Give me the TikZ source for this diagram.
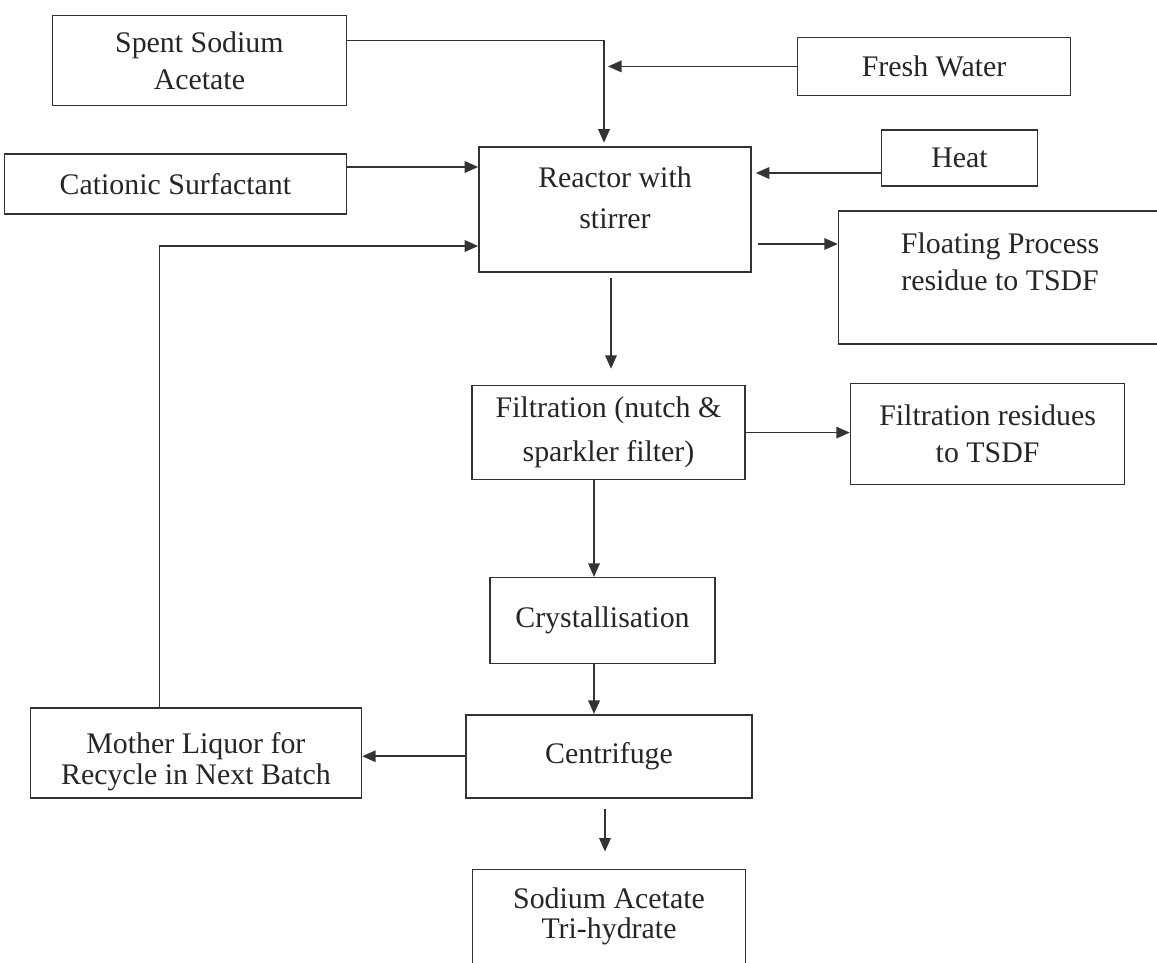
\documentclass[tikz,border=0pt]{standalone}
\usepackage{fontspec}
\setmainfont{Liberation Serif}
\usepackage{tikz}
\usetikzlibrary{arrows.meta,positioning}

\begin{document}
\begin{tikzpicture}[
  box/.style={rectangle, draw=black!80, line width=0.9pt, align=center, inner sep=2pt, text=black!85, font=\fontsize{17}{21}\selectfont},
  arrow/.style={-{Triangle[length=2.7mm,width=2.3mm]}, line width=1pt, draw=black!80}
]
\useasboundingbox (0,0) rectangle (23.14,-19.24);

% Reactor and feeds
\node[box, minimum width=5.44cm, minimum height=2.5cm, text depth=13.6pt] (reactor) at (12.30,-4.19) {Reactor with\\[2pt]stirrer};
\node[box, minimum width=6.84cm, minimum height=1.2cm, left=2.62cm of reactor, yshift=0.51cm] (cationic) {Cationic Surfactant};
\node[box, minimum width=5.88cm, minimum height=1.8cm, above=0.94cm of cationic, xshift=0.48cm] (spent) {Spent Sodium\\Acetate};
\node[box, minimum width=3.12cm, minimum height=1.12cm, right=2.58cm of reactor, yshift=1.03cm] (heat) {Heat};
\node[box, minimum width=5.46cm, minimum height=1.16cm, above=0.66cm of heat, xshift=-0.51cm] (fresh) {Fresh Water};
\node[box, minimum width=6.46cm, minimum height=2.66cm, text depth=18pt, right=1.72cm of reactor, yshift=-1.36cm] (floating) {Floating Process\\residue to TSDF};

% Main line
\node[box, minimum width=5.46cm, minimum height=1.88cm, below=2.24cm of reactor, xshift=-0.13cm] (filtration) {Filtration (nutch \&\\[4pt]sparkler filter)};
\node[box, minimum width=5.48cm, minimum height=2.02cm, right=2.08cm of filtration, yshift=-0.03cm] (residues) {Filtration residues\\to TSDF};
\node[box, minimum width=4.5cm, minimum height=1.72cm, below=1.93cm of filtration, xshift=-0.12cm] (cryst) {Crystallisation};
\node[box, minimum width=5.72cm, minimum height=1.66cm, below=0.99cm of cryst, xshift=0.13cm] (centrifuge) {Centrifuge};
\node[box, minimum width=6.62cm, minimum height=1.8cm, text height=40pt, left=2.06cm of centrifuge, yshift=0.07cm] (mother) {Mother Liquor for\\[-3pt]Recycle in Next Batch};
\node[box, minimum width=5.46cm, minimum height=2.1cm, text depth=10pt, below=1.4cm of centrifuge] (sodium) {Sodium Acetate\\[-4pt]Tri-hydrate};

% Arrows
\draw[arrow, shorten >=2pt] ([yshift=0.4cm]spent.east) -| ([xshift=-0.22cm]reactor.north);
\draw[arrow] (fresh.west) -- ([xshift=-0.14cm]fresh.west -| reactor.north);
\draw[arrow] ([yshift=0.34cm]cationic.east) -- ([yshift=0.34cm]cationic.east -| reactor.west);
\draw[arrow] ([yshift=-0.3cm]heat.west) -- ([xshift=0.08cm,yshift=-0.3cm]heat.west -| reactor.east);
\draw[arrow] ([xshift=-0.73cm]mother.north) |- ([yshift=-0.73cm]reactor.west);
\draw[arrow] ([xshift=0.12cm,yshift=-0.69cm]reactor.east) -- ([yshift=-0.69cm]reactor.east -| floating.west);
\draw[arrow] ([xshift=-0.08cm,yshift=-0.1cm]reactor.south) -- ([xshift=-0.08cm,yshift=0.32cm]reactor.south |- filtration.north);
\draw[arrow] (filtration.east) -- (filtration.east -| residues.west);
\draw[arrow] ([xshift=-0.29cm]filtration.south) -- ([xshift=-0.29cm]filtration.south |- cryst.north);
\draw[arrow] ([xshift=-0.17cm]cryst.south) -- ([xshift=-0.17cm]cryst.south |- centrifuge.north);
\draw[arrow] (centrifuge.west) -- (centrifuge.west -| mother.east);
\draw[arrow] ([xshift=-0.08cm,yshift=-0.2cm]centrifuge.south) -- ([xshift=-0.08cm,yshift=0.34cm]centrifuge.south |- sodium.north);

\end{tikzpicture}
\end{document}
